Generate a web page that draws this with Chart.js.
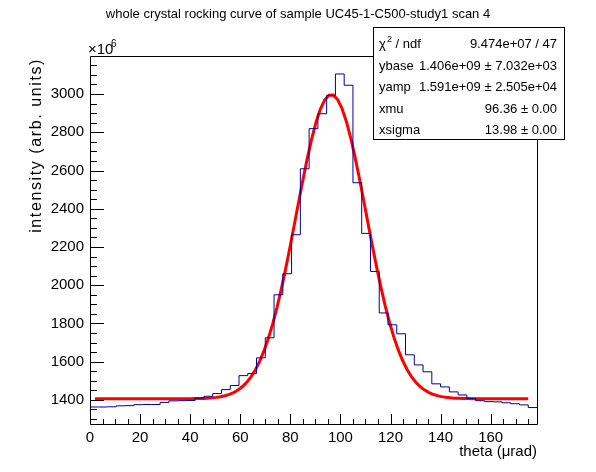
<!DOCTYPE html>
<html>
<head>
<meta charset="utf-8">
<script src="https://cdn.jsdelivr.net/npm/chart.js@4.4.1/dist/chart.umd.min.js"></script>
<style>
  html, body { margin: 0; padding: 0; background: #fff; }
  canvas { display: block; }
</style>
</head>
<body>
<canvas id="myChart" width="596" height="472"></canvas>
<script>
// histogram: low edge of each bin (theta, urad) and content (x10^6)
let binLow = [0, 3.5, 7, 10.5, 14, 17.5, 21, 24.5, 28, 31.5,
  35, 38.5, 42, 45.5, 49, 52.5, 56, 59.5, 63, 66.5,
  70, 73.5, 77, 80.5, 84, 87.5, 91, 94.5, 98, 101.5,
  105, 108.5, 112, 115.5, 119, 122.5, 126, 129.5, 133, 136.5,
  140, 143.5, 147, 150.5, 154, 157.5, 161, 164.5, 168, 171.5, 175];
let lastEdge = 178.5;
let counts = [1363, 1363, 1364, 1369, 1370, 1375, 1376, 1376, 1387, 1395,
  1396, 1397, 1410, 1419, 1433, 1454, 1475, 1527, 1538, 1620,
  1725, 1950, 2060, 2264, 2609, 2819, 2897, 2993, 3105, 3046,
  2536, 2271, 2072, 1855, 1793, 1746, 1636, 1583, 1547, 1484,
  1468, 1442, 1426, 1408, 1396, 1391, 1390, 1385, 1380, 1374, 1360];

// fit result shown in the stats box (y in units of 10^6)
let ybase = 1406, yamp = 1591, xmu = 96.36, xsigma = 13.98;
let fitFrom = 2, fitTo = 175, fitNpx = 100;

let xTicks = [0, 20, 40, 60, 80, 100, 120, 140, 160];
let yTicks = [1400, 1600, 1800, 2000, 2200, 2400, 2600, 2800, 3000];

let statNames = ['ndf', 'ybase', 'yamp', 'xmu', 'xsigma'];
let statValues = ['9.474e+07 / 47', '1.406e+09 \u00b1 7.032e+03', '1.591e+09 \u00b1 2.505e+04',
  '96.36 \u00b1 0.00', '13.98 \u00b1 0.00'];

let histPoints = [];
for (let i = 0; i < binLow.length; i++) {
  histPoints.push({x: binLow[i], y: counts[i]});
}
histPoints.push({x: lastEdge, y: counts[counts.length - 1]});

// the fitted gaussian, evaluated like TF1 does with its Npx points
let fitPoints = [];
for (let i = 0; i <= fitNpx; i++) {
  let x = fitFrom + (fitTo - fitFrom) * i / fitNpx;
  let t = (x - xmu) / xsigma;
  fitPoints.push({x: x, y: ybase + yamp * Math.exp(-0.5 * t * t)});
}

const FONT = '"Liberation Sans", Arial, Helvetica, sans-serif';

// ROOT style frame, inward ticks, titles and the stats box
const rootDecor = {
  id: 'rootDecor',
  afterDatasetsDraw(chart) {
    const ctx = chart.ctx;
    const a = chart.chartArea;
    const xs = chart.scales.x, ys = chart.scales.y;
    ctx.save();
    ctx.strokeStyle = '#000';
    ctx.lineWidth = 1;
    ctx.beginPath();
    ctx.rect(a.left + 0.5, a.top + 0.5, a.right - a.left, a.bottom - a.top);
    ctx.stroke();

    ctx.beginPath();
    for (let v = 0; v <= xs.max; v += 5) {
      let px = Math.round(xs.getPixelForValue(v)) + 0.5;
      let len = (v % 20 === 0) ? 10 : 5;
      ctx.moveTo(px, a.bottom);
      ctx.lineTo(px, a.bottom - len);
    }
    for (let v = 1300; v <= ys.max; v += 50) {
      let py = Math.round(ys.getPixelForValue(v)) + 0.5;
      let len = (v % 200 === 0) ? 14 : 7;
      ctx.moveTo(a.left, py);
      ctx.lineTo(a.left + len, py);
    }
    ctx.stroke();

    ctx.fillStyle = '#000';
    // main title
    ctx.font = '13px ' + FONT;
    ctx.textAlign = 'center';
    ctx.textBaseline = 'alphabetic';
    ctx.fillText('whole crystal rocking curve of sample UC45-1-C500-study1 scan 4', 298, 18);

    // x10^6
    ctx.textAlign = 'left';
    ctx.font = '15px ' + FONT;
    ctx.fillText('\u00d710', 88, 54);
    ctx.font = '10px ' + FONT;
    ctx.fillText('6', 111, 47);

    // axis titles
    ctx.font = '15px ' + FONT;
    ctx.textAlign = 'right';
    ctx.fillText('theta (\u03bcrad)', a.right, 456);
    ctx.save();
    ctx.translate(41, a.top + 2);
    ctx.rotate(-Math.PI / 2);
    ctx.font = '16px ' + FONT;
    ctx.letterSpacing = '1.6px';
    ctx.fillText('intensity (arb. units)', 0, 0);
    ctx.restore();

    // stats box
    let bx = 373.5, by = 27.5, bw = 191, bh = 112;
    ctx.fillStyle = '#fff';
    ctx.fillRect(bx, by, bw, bh);
    ctx.strokeRect(bx, by, bw, bh);
    ctx.fillStyle = '#000';
    ctx.font = '13px ' + FONT;
    for (let i = 0; i < statNames.length; i++) {
      let ty = 48 + i * 21.5;
      ctx.textAlign = 'left';
      if (i === 0) {
        ctx.fillText('\u03c7', 379, ty);
        ctx.font = '9px ' + FONT;
        ctx.fillText('2', 387, ty - 6);
        ctx.font = '13px ' + FONT;
        ctx.fillText(' / ndf', 392, ty);
      } else {
        ctx.fillText(statNames[i], 379, ty);
      }
      ctx.textAlign = 'right';
      ctx.fillText(statValues[i], 557, ty);
    }
    ctx.restore();
  }
};

const ctx = document.getElementById('myChart').getContext('2d');

const myChart = new Chart(ctx, {
  type: 'line',
  data: {
    datasets: [{
      label: 'histogram',
      data: histPoints,
      stepped: 'before',
      borderColor: '#000099',
      borderWidth: 1,
      pointRadius: 0,
      fill: false
    }, {
      label: 'fit',
      data: fitPoints,
      borderColor: '#ff0000',
      borderWidth: 3,
      pointRadius: 0,
      tension: 0,
      fill: false
    }]
  },
  options: {
    responsive: false,
    devicePixelRatio: 1,
    animation: false,
    events: [],
    layout: {padding: {top: 56, right: 59, left: 0, bottom: 0}},
    scales: {
      x: {
        type: 'linear',
        min: 0,
        max: lastEdge,
        grid: {display: false, drawTicks: false},
        border: {display: false},
        afterFit(scale) { scale.height = 48; },
        afterBuildTicks(scale) { scale.ticks = xTicks.map(v => ({value: v})); },
        ticks: {
          color: '#000',
          padding: 5,
          maxRotation: 0,
          autoSkip: false,
          callback: v => String(v),
          font: {family: FONT, size: 15}
        }
      },
      y: {
        type: 'linear',
        min: 1274,
        max: 3199,
        grid: {display: false, drawTicks: false},
        border: {display: false},
        afterFit(scale) { scale.width = 90; },
        afterBuildTicks(scale) { scale.ticks = yTicks.map(v => ({value: v})); },
        ticks: {
          color: '#000',
          padding: 6,
          autoSkip: false,
          callback: v => String(v),
          font: {family: FONT, size: 15}
        }
      }
    },
    plugins: {
      legend: {display: false},
      tooltip: {enabled: false},
      title: {display: false}
    }
  },
  plugins: [rootDecor]
});
</script>
</body>
</html>
